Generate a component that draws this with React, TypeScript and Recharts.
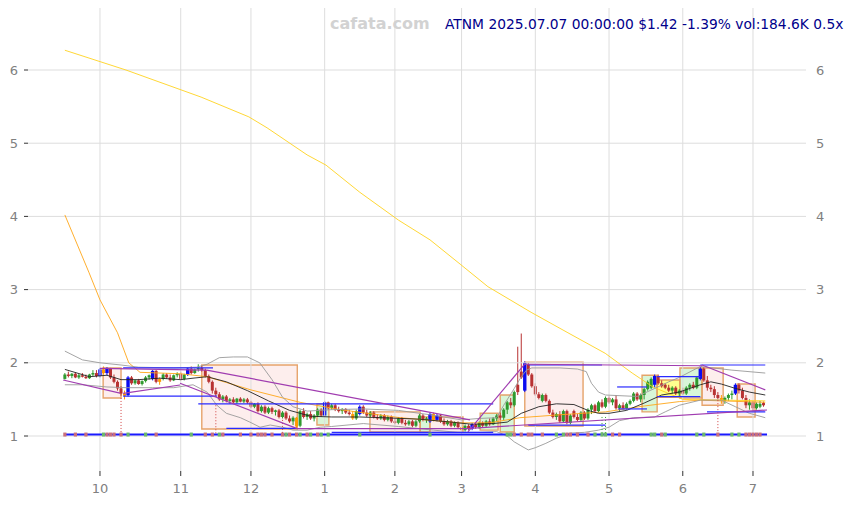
import React from 'react'
import {
  ComposedChart, Bar, Line, Scatter, XAxis, YAxis, ReferenceLine, ReferenceArea,
} from 'recharts'

// trading-day index of the first session of each month (idx 0 = 2024-09-17)
const monthTicks = [10, 33, 53, 74, 94, 113, 134, 155, 176, 196]
const monthLabels = ['10', '11', '12', '1', '2', '3', '4', '5', '6', '7']
const priceTicks = [1, 2, 3, 4, 5, 6]

// [open, high, low, close] per session, 2024-09-17 .. 2025-07-07
const candles: number[][] = [
  [1.78, 1.86, 1.77, 1.84], [1.84, 1.88, 1.80, 1.82], [1.82, 1.86, 1.79, 1.85], [1.85, 1.87, 1.79, 1.80], [1.80, 1.85, 1.78, 1.83],
  [1.83, 1.86, 1.80, 1.81], [1.81, 1.84, 1.78, 1.79], [1.79, 1.85, 1.78, 1.84], [1.84, 1.90, 1.82, 1.86], [1.86, 1.90, 1.80, 1.82],
  [1.82, 1.93, 1.80, 1.91], [1.91, 1.95, 1.84, 1.86], [1.86, 1.94, 1.83, 1.92], [1.92, 1.93, 1.78, 1.80], [1.80, 1.84, 1.72, 1.74],
  [1.74, 1.76, 1.62, 1.65], [1.65, 1.68, 1.55, 1.58], [1.58, 1.62, 1.50, 1.55], [1.56, 1.82, 1.54, 1.80], [1.80, 1.82, 1.70, 1.72],
  [1.72, 1.77, 1.70, 1.76], [1.76, 1.78, 1.70, 1.71], [1.71, 1.76, 1.69, 1.75], [1.75, 1.82, 1.73, 1.80], [1.80, 1.84, 1.77, 1.83],
  [1.78, 1.90, 1.76, 1.89], [1.89, 1.90, 1.72, 1.74], [1.74, 1.80, 1.70, 1.78], [1.78, 1.86, 1.76, 1.84], [1.84, 1.86, 1.78, 1.80],
  [1.80, 1.84, 1.74, 1.76], [1.76, 1.84, 1.75, 1.83], [1.83, 1.87, 1.80, 1.85], [1.85, 1.88, 1.76, 1.78], [1.78, 1.85, 1.76, 1.84],
  [1.84, 1.94, 1.82, 1.92], [1.92, 1.95, 1.84, 1.86], [1.86, 1.92, 1.85, 1.91], [1.91, 1.98, 1.88, 1.93], [1.93, 1.96, 1.88, 1.90],
  [1.90, 1.92, 1.80, 1.82], [1.82, 1.84, 1.72, 1.74], [1.74, 1.76, 1.58, 1.62], [1.62, 1.66, 1.54, 1.57], [1.57, 1.60, 1.48, 1.50],
  [1.50, 1.56, 1.46, 1.54], [1.54, 1.56, 1.46, 1.48], [1.48, 1.52, 1.44, 1.50], [1.50, 1.53, 1.45, 1.46], [1.46, 1.52, 1.44, 1.51],
  [1.51, 1.53, 1.46, 1.47], [1.47, 1.52, 1.45, 1.50], [1.50, 1.52, 1.44, 1.46], [1.46, 1.48, 1.38, 1.40], [1.40, 1.45, 1.38, 1.44],
  [1.44, 1.46, 1.32, 1.34], [1.34, 1.42, 1.32, 1.40], [1.40, 1.42, 1.30, 1.32], [1.32, 1.40, 1.30, 1.38], [1.38, 1.40, 1.30, 1.33],
  [1.33, 1.36, 1.28, 1.35], [1.35, 1.37, 1.24, 1.26], [1.26, 1.34, 1.24, 1.32], [1.32, 1.34, 1.22, 1.24], [1.24, 1.28, 1.18, 1.20],
  [1.20, 1.27, 1.15, 1.25], [1.25, 1.26, 1.10, 1.13], [1.14, 1.36, 1.12, 1.34], [1.34, 1.38, 1.24, 1.26], [1.26, 1.32, 1.22, 1.30],
  [1.30, 1.34, 1.22, 1.24], [1.24, 1.30, 1.20, 1.28], [1.28, 1.38, 1.26, 1.36], [1.36, 1.38, 1.26, 1.28], [1.28, 1.48, 1.26, 1.46],
  [1.46, 1.47, 1.36, 1.38], [1.38, 1.44, 1.36, 1.42], [1.42, 1.44, 1.34, 1.36], [1.36, 1.40, 1.32, 1.34], [1.34, 1.38, 1.30, 1.37],
  [1.37, 1.38, 1.30, 1.32], [1.32, 1.36, 1.28, 1.30], [1.30, 1.34, 1.22, 1.24], [1.24, 1.36, 1.22, 1.34], [1.30, 1.42, 1.28, 1.40],
  [1.40, 1.42, 1.30, 1.32], [1.32, 1.36, 1.26, 1.28], [1.28, 1.34, 1.26, 1.32], [1.32, 1.34, 1.24, 1.26], [1.26, 1.30, 1.22, 1.24],
  [1.24, 1.30, 1.22, 1.28], [1.28, 1.30, 1.20, 1.22], [1.22, 1.28, 1.20, 1.26], [1.26, 1.28, 1.18, 1.20], [1.20, 1.24, 1.16, 1.18],
  [1.18, 1.26, 1.16, 1.24], [1.24, 1.26, 1.16, 1.18], [1.18, 1.22, 1.14, 1.16], [1.16, 1.22, 1.14, 1.20], [1.20, 1.22, 1.12, 1.14],
  [1.14, 1.22, 1.12, 1.20], [1.20, 1.30, 1.18, 1.28], [1.28, 1.30, 1.20, 1.22], [1.22, 1.26, 1.18, 1.24], [1.20, 1.32, 1.18, 1.30],
  [1.30, 1.32, 1.20, 1.22], [1.22, 1.30, 1.20, 1.28], [1.28, 1.30, 1.18, 1.20], [1.20, 1.24, 1.14, 1.16], [1.16, 1.22, 1.14, 1.20],
  [1.20, 1.22, 1.12, 1.14], [1.14, 1.20, 1.12, 1.18], [1.18, 1.20, 1.10, 1.12], [1.12, 1.16, 1.04, 1.08], [1.08, 1.16, 1.06, 1.14],
  [1.14, 1.16, 1.08, 1.10], [1.10, 1.18, 1.08, 1.16], [1.16, 1.18, 1.10, 1.12], [1.12, 1.20, 1.10, 1.18], [1.18, 1.20, 1.12, 1.14],
  [1.14, 1.22, 1.12, 1.20], [1.20, 1.24, 1.14, 1.16], [1.16, 1.26, 1.15, 1.24], [1.24, 1.30, 1.20, 1.28], [1.28, 1.32, 1.22, 1.25],
  [1.25, 1.38, 1.22, 1.36], [1.36, 1.48, 1.30, 1.46], [1.46, 1.52, 1.38, 1.42], [1.42, 1.62, 1.40, 1.60], [1.70, 2.22, 1.56, 1.60],
  [1.88, 2.40, 1.78, 1.80], [1.62, 2.02, 1.60, 2.00], [1.98, 2.00, 1.82, 1.84], [1.84, 1.86, 1.66, 1.68], [1.68, 1.72, 1.55, 1.57],
  [1.57, 1.60, 1.50, 1.52], [1.48, 1.58, 1.46, 1.56], [1.56, 1.58, 1.46, 1.48], [1.48, 1.50, 1.30, 1.32], [1.32, 1.36, 1.24, 1.26],
  [1.26, 1.32, 1.22, 1.30], [1.30, 1.34, 1.18, 1.20], [1.20, 1.36, 1.18, 1.34], [1.34, 1.36, 1.16, 1.18], [1.18, 1.30, 1.16, 1.28],
  [1.34, 1.36, 1.24, 1.26], [1.26, 1.30, 1.20, 1.22], [1.22, 1.34, 1.20, 1.32], [1.32, 1.34, 1.22, 1.24], [1.24, 1.38, 1.22, 1.36],
  [1.36, 1.44, 1.30, 1.42], [1.42, 1.44, 1.32, 1.34], [1.34, 1.48, 1.32, 1.46], [1.46, 1.50, 1.38, 1.40], [1.40, 1.54, 1.38, 1.52],
  [1.52, 1.54, 1.44, 1.46], [1.46, 1.52, 1.42, 1.50], [1.50, 1.56, 1.36, 1.38], [1.38, 1.44, 1.34, 1.42], [1.42, 1.46, 1.36, 1.38],
  [1.38, 1.46, 1.36, 1.44], [1.44, 1.50, 1.42, 1.48], [1.48, 1.60, 1.46, 1.58], [1.58, 1.60, 1.48, 1.50], [1.50, 1.58, 1.46, 1.56],
  [1.56, 1.66, 1.50, 1.64], [1.64, 1.76, 1.62, 1.74], [1.66, 1.80, 1.64, 1.78], [1.70, 1.84, 1.66, 1.82], [1.82, 1.84, 1.70, 1.72],
  [1.72, 1.76, 1.66, 1.68], [1.70, 1.72, 1.64, 1.66], [1.66, 1.70, 1.60, 1.62], [1.62, 1.68, 1.58, 1.66], [1.66, 1.68, 1.56, 1.58],
  [1.58, 1.64, 1.54, 1.62], [1.62, 1.66, 1.56, 1.58], [1.58, 1.68, 1.56, 1.66], [1.66, 1.72, 1.62, 1.70], [1.70, 1.74, 1.64, 1.66],
  [1.66, 1.82, 1.64, 1.80], [1.78, 1.94, 1.76, 1.92], [1.92, 1.94, 1.74, 1.76], [1.76, 1.82, 1.62, 1.66], [1.66, 1.70, 1.60, 1.64],
  [1.64, 1.68, 1.52, 1.56], [1.56, 1.60, 1.50, 1.52], [1.52, 1.56, 1.44, 1.48], [1.48, 1.54, 1.44, 1.52], [1.52, 1.58, 1.48, 1.56],
  [1.56, 1.62, 1.50, 1.58], [1.58, 1.72, 1.56, 1.70], [1.70, 1.72, 1.58, 1.62], [1.62, 1.66, 1.50, 1.52], [1.52, 1.56, 1.38, 1.42],
  [1.42, 1.50, 1.36, 1.46], [1.46, 1.48, 1.34, 1.38], [1.38, 1.46, 1.36, 1.44], [1.40, 1.48, 1.38, 1.44], [1.45, 1.47, 1.40, 1.42],
]
const blueDays = [10, 12, 18, 25, 35, 74, 84, 104, 106, 116, 131, 168, 181, 191]
const orangeDays = [11, 17, 27, 66, 82, 105, 113, 187]

// indicator lines, [session idx, price]
const ma20: number[][] = [
  [0, 1.91], [7, 1.81], [12, 1.83], [16, 1.77], [21, 1.77], [27, 1.79], [33, 1.77], [36.5, 1.79], [40.5, 1.81],
  [46, 1.74], [52, 1.62], [58, 1.48], [64, 1.35], [70, 1.27], [76, 1.26], [84, 1.26], [93, 1.245], [101, 1.23],
  [110, 1.19], [116, 1.16], [122, 1.17], [126, 1.19], [130, 1.31], [135, 1.40], [140, 1.44], [145, 1.43], [149, 1.35],
  [152, 1.31], [155, 1.31], [160, 1.35], [165, 1.45], [170, 1.56], [175, 1.60], [181, 1.70], [184, 1.74], [187, 1.71],
  [191, 1.65], [195, 1.60], [199.5, 1.56],
]
const bandUpper: number[][] = [
  [0, 2.16], [5, 2.04], [10, 2.0], [16, 1.97], [21, 1.94], [31, 1.93], [37.5, 1.94], [40.5, 1.98], [44, 2.07],
  [48, 2.08], [52, 2.08], [55.5, 2.0], [59, 1.77], [62, 1.53], [65, 1.40], [69, 1.34], [76, 1.36], [85, 1.37],
  [95, 1.35], [104, 1.29], [113, 1.22], [118, 1.24], [123, 1.25], [125, 1.42], [128, 1.65], [130, 1.81], [131.5, 1.90],
  [133, 1.93], [141, 1.93], [146, 1.915], [148.5, 1.88], [150, 1.72], [152, 1.60], [154, 1.56], [163, 1.54],
  [168, 1.65], [172, 1.74], [175, 1.80], [181, 1.95], [190, 1.90], [199.5, 1.86],
]
const bandLower: number[][] = [
  [0, 1.70], [5, 1.70], [12, 1.67], [17.5, 1.66], [25, 1.66], [31, 1.66], [36.5, 1.70], [40.5, 1.60], [43.3, 1.42],
  [46, 1.31], [50, 1.25], [52.7, 1.19], [55.6, 1.12], [58.5, 1.15], [62, 1.12], [65, 1.08], [69, 1.08], [72.7, 1.12],
  [76, 1.13], [85, 1.17], [95, 1.13], [105, 1.08], [112, 1.05], [118, 1.05], [123, 1.06], [126, 1.0], [128, 0.92],
  [130.5, 0.85], [132, 0.81], [134, 0.84], [137, 0.90], [140, 0.97], [144, 1.04], [148, 1.05], [152, 1.08],
  [155, 1.12], [158, 1.21], [162, 1.25], [168, 1.26], [171, 1.33], [175, 1.42], [181, 1.49], [187, 1.49],
  [191, 1.40], [195, 1.31], [199.5, 1.25],
]
const ma200: number[][] = [
  [0, 6.27], [17.4, 6.0], [38.8, 5.63], [52.4, 5.36], [57.6, 5.21], [69, 4.84], [74.4, 4.70], [84, 4.33],
  [95, 3.95], [104, 3.68], [112.8, 3.34], [120.5, 3.04], [132.8, 2.69], [143.3, 2.41], [153.9, 2.13],
  [161.6, 1.86], [167.5, 1.67], [176, 1.50], [199.5, 1.48],
]
const ma50: number[][] = [
  [0, 4.02], [6.9, 3.23], [10, 2.86], [15, 2.41], [18.2, 2.0], [21.4, 1.87], [33, 1.85], [40.5, 1.81],
  [53, 1.63], [67, 1.46], [78.4, 1.36], [95.5, 1.25], [112.6, 1.18], [121, 1.18], [129.6, 1.25], [141, 1.29],
  [154, 1.33], [165, 1.41], [175, 1.47], [181, 1.49], [199.5, 1.46],
]

// trend lines [x1, y1, x2, y2]
const purpleLines: number[][] = [
  [-0.5, 1.765, 15.7, 1.587], [16.6, 1.583, 32.8, 1.697], [32.8, 1.72, 66, 1.105], [10, 1.925, 40.4, 1.90],
  [40.4, 1.90, 115.4, 1.22], [66, 1.10, 115.4, 1.10], [114.8, 1.055, 131.1, 1.99], [131, 1.98, 181.5, 1.96],
  [181.5, 1.97, 199.5, 1.63], [115.4, 1.105, 200, 1.355],
]
const blueLines: number[][] = [
  [16.6, 1.93, 42.2, 1.93], [16.6, 1.546, 43.3, 1.546], [38, 1.44, 122, 1.44], [46, 1.105, 66, 1.105],
  [76, 1.05, 122, 1.05], [132, 1.97, 153, 1.97], [181, 1.97, 199.5, 1.97], [132, 1.15, 154, 1.15],
  [157.3, 1.67, 165.8, 1.67], [157.6, 1.37, 165.8, 1.37], [168.7, 1.81, 181, 1.81], [168.7, 1.537, 181, 1.537],
  [182.9, 1.33, 199.5, 1.33],
]
// boxes [x1, x2, y1, y2, kind]
const boxes: (number | string)[][] = [
  [10.9, 16, 1.52, 1.93, 'pink'], [39, 66.2, 1.096, 1.97, 'pink'], [71.8, 75.2, 1.15, 1.437, 'green'],
  [86.9, 101.2, 1.055, 1.33, 'pink'], [101.2, 104, 1.055, 1.26, 'green'], [104, 113.4, 1.05, 1.26, 'pink'],
  [118.3, 123.4, 1.08, 1.31, 'green'], [124, 128, 1.055, 1.56, 'green'], [131, 147.6, 1.137, 2.01, 'pink'],
  [164.4, 168.7, 1.33, 1.83, 'green'], [168.7, 175.2, 1.53, 1.765, 'yellow'], [175.2, 181.5, 1.52, 1.93, 'green'],
  [181.5, 187.5, 1.42, 1.93, 'pink'], [191.5, 196.6, 1.26, 1.71, 'pink'],
]
const redDrops = [[16, 1.52], [43, 1.42], [62, 1.22], [186, 1.49]]
const greenDrops = [[153, 1.26], [154, 1.26]]
const redMarks = [0, 3, 6, 12, 13, 14, 16, 26, 40, 42, 45, 50, 53, 55, 56, 57, 59, 62, 64, 66, 69, 72,
  128, 130, 132, 133, 136, 143, 144, 146, 149, 156, 158, 170, 186, 194, 195, 196, 197, 198]
const greenMarks = [11, 18, 23, 36, 44, 63, 67, 70, 73, 75, 84, 104, 126, 127, 140, 142, 151, 153, 154,
  167, 168, 171, 180, 182, 190, 192]

const boxFill: Record<string, string> = { pink: '#fbd9d6', green: '#a8eca8', yellow: '#ffff60' }

const rows = candles.map(([o, h, l, c], i) => ({ i, o, h, l, c, range: [l, h] }))
const pts = (arr: number[][]) => arr.map(([i, v]) => ({ i, v }))
const marks = [
  ...redMarks.map(i => ({ i, v: 1.02, col: '#c9707c' })),
  ...greenMarks.map(i => ({ i, v: 1.02, col: '#6cb86c' })),
]

function candleColor(i: number, o: number, c: number) {
  if (blueDays.includes(i)) return '#0a0af0'
  if (orangeDays.includes(i)) return '#ff9a00'
  return c >= o ? '#2f9a2f' : '#b83232'
}

function Candle(props: any) {
  const { x, y, width, height, payload } = props
  const { o, h, l, c, i } = payload
  const k = h === l ? 0 : height / (h - l)
  const cx = x + width / 2
  const top = y + (h - Math.max(o, c)) * k
  const bot = y + (h - Math.min(o, c)) * k
  const col = candleColor(i, o, c)
  const bw = blueDays.includes(i) ? 3.4 : 3
  return (
    <g>
      <line x1={cx} x2={cx} y1={y} y2={y + height} stroke={col} strokeWidth={1} />
      <rect x={cx - bw / 2} y={top} width={bw} height={Math.max(bot - top, 1)} fill={col} />
    </g>
  )
}

function Mark(props: any) {
  const { cx, cy, payload } = props
  return <rect x={cx - 1.6} y={cy - 2} width={3.2} height={4} fill={payload.col} />
}

const axisFont = { fontSize: 13, fill: '#808080', fontFamily: 'DejaVu Sans' }

export default function App() {
  return (
    <div style={{ position: 'absolute', left: 0, top: 0, width: 854, height: 505, background: '#fff' }}>
      <ComposedChart width={854} height={505} data={rows} margin={{ top: 8, right: 0, bottom: 0, left: 0 }}>
        <XAxis
          dataKey="i" type="number" domain={[-10.5, 211.1]} allowDataOverflow
          ticks={monthTicks} tickFormatter={(v: number) => monthLabels[monthTicks.indexOf(v)] ?? ''}
          height={34} axisLine={false} tickSize={5} tickMargin={8}
          tickLine={{ stroke: '#333' }} tick={axisFont}
        />
        <YAxis
          domain={[0.522, 6.847]} allowDataOverflow ticks={priceTicks} width={28}
          axisLine={false} tickSize={4} tickMargin={6} tickLine={{ stroke: '#333' }} tick={axisFont}
        />
        <YAxis
          yAxisId="r" orientation="right" domain={[0.522, 6.847]} allowDataOverflow ticks={priceTicks} width={48}
          axisLine={false} tickSize={4} tickMargin={6} tickLine={false} tick={axisFont}
        />
        {priceTicks.map(p => (
          <ReferenceLine key={'gy' + p} y={p} stroke="#dddddd" />
        ))}
        {monthTicks.map(m => (
          <ReferenceLine key={'gx' + m} x={m} stroke="#dddddd" />
        ))}
        {boxes.map(([x1, x2, y1, y2, kind], n) => (
          <ReferenceArea
            key={'b' + n} x1={x1 as number} x2={x2 as number} y1={y1 as number} y2={y2 as number}
            fill={boxFill[kind as string]} fillOpacity={kind === 'yellow' ? 0.7 : 0.45}
            stroke="#e39a5c" strokeWidth={1.4} strokeOpacity={0.9} ifOverflow="visible"
          />
        ))}
        <Line data={pts(ma200)} dataKey="v" stroke="#ffd21f" strokeWidth={0.9} dot={false} isAnimationActive={false} />
        <Line data={pts(ma50)} dataKey="v" stroke="#ffa617" strokeWidth={0.9} dot={false} isAnimationActive={false} />
        <Line data={pts(bandUpper)} dataKey="v" stroke="#9a9a9a" strokeWidth={0.9} dot={false} isAnimationActive={false} />
        <Line data={pts(bandLower)} dataKey="v" stroke="#9a9a9a" strokeWidth={0.9} dot={false} isAnimationActive={false} />
        <Line data={pts(ma20)} dataKey="v" stroke="#222" strokeWidth={0.9} dot={false} isAnimationActive={false} />
        {redDrops.map(([i, v], n) => (
          <ReferenceLine key={'rd' + n} segment={[{ x: i, y: v }, { x: i, y: 1.02 }]} stroke="#d04040" strokeDasharray="1 2" ifOverflow="visible" />
        ))}
        {greenDrops.map(([i, v], n) => (
          <ReferenceLine key={'gd' + n} segment={[{ x: i, y: v }, { x: i, y: 1.02 }]} stroke="#30a030" strokeDasharray="1 2" ifOverflow="visible" />
        ))}
        <Scatter data={marks} dataKey="v" shape={Mark} isAnimationActive={false} />
        <ReferenceLine segment={[{ x: 0, y: 1.02 }, { x: 200, y: 1.02 }]} stroke="#1a1aff" strokeWidth={2} ifOverflow="visible" />
        {blueLines.map(([x1, y1, x2, y2], n) => (
          <ReferenceLine key={'bl' + n} segment={[{ x: x1, y: y1 }, { x: x2, y: y2 }]} stroke="#2a2aff" strokeWidth={1.2} ifOverflow="visible" />
        ))}
        {purpleLines.map(([x1, y1, x2, y2], n) => (
          <ReferenceLine key={'pl' + n} segment={[{ x: x1, y: y1 }, { x: x2, y: y2 }]} stroke="#a03cb0" strokeWidth={1.2} ifOverflow="visible" />
        ))}
        <Bar dataKey="range" barSize={3} shape={Candle} isAnimationActive={false} />
      </ComposedChart>
      <div style={{ position: 'absolute', left: 330, top: 14, fontFamily: 'DejaVu Sans', fontWeight: 'bold', fontSize: 16, color: '#d2d2d2' }}>
        cafata.com
      </div>
      <div style={{ position: 'absolute', left: 445, top: 16, fontFamily: 'DejaVu Sans', fontSize: 13.8, color: '#00008b', whiteSpace: 'nowrap' }}>
        ATNM 2025.07.07 00:00:00 $1.42 -1.39% vol:184.6K 0.5x
      </div>
    </div>
  )
}
